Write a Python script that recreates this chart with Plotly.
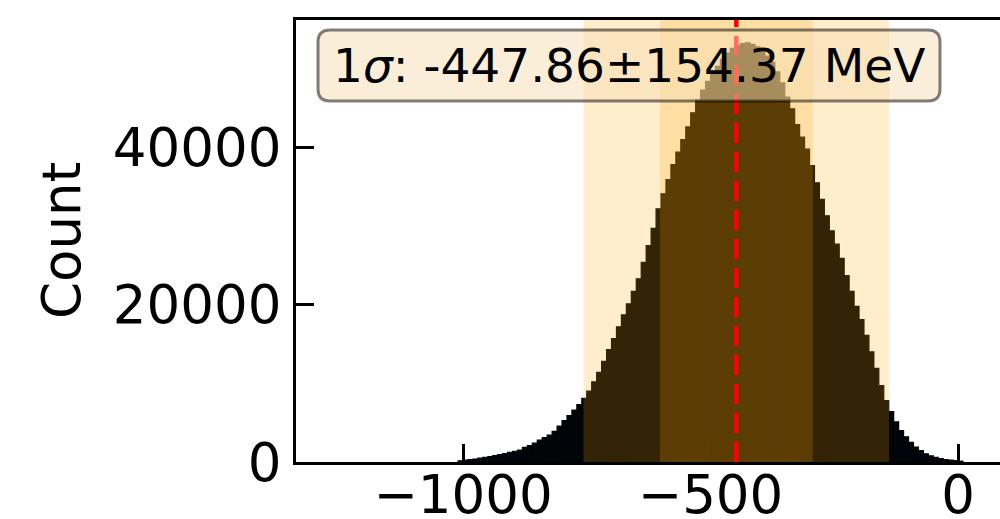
import numpy as np
import plotly.graph_objects as go

# ---- data ----
bin_first_center = -1005.0
bin_width = 10.0
counts = [
    150, 250, 300, 380, 480, 600, 700, 820, 950, 1080,
    1220, 1370, 1500, 1850, 2100, 2400, 2780, 3100, 3420, 3900,
    4550, 5250, 5900, 6600, 7300, 8100, 9000, 10200, 11400, 12800,
    14300, 15700, 17200, 18700, 20100, 21700, 23300, 25400, 27500, 29700,
    32200, 34100, 35900, 37800, 39400, 41000, 42600, 44400, 46000, 47300,
    48400, 49400, 50300, 51200, 52000, 52600, 52900, 53200, 53300, 53100,
    52800, 52300, 51600, 50800, 49600, 48200, 46400, 44900, 42900, 41300,
    39800, 37700, 35500, 33400, 31300, 29400, 27700, 25900, 23700, 21700,
    19800, 18100, 16100, 14000, 11900, 9700, 7800, 6400, 5100, 4000,
    3200, 2500, 1900, 1450, 1050, 780, 580, 430, 320, 240,
    170, 100,
]
mean_mev = -447.86
sigma_mev = 154.37

x_tickvals = [-1000, -500, 0]
x_ticktext = ["\u22121000", "\u2212500", "0"]
y_tickvals = [0, 20000, 40000]
y_ticktext = ["0", "20000", "40000"]
y_label = "Count"
box_text = "1<i>\u03c3</i>: -447.86\u00b1154.37 MeV"

x_range = [-1337.4, 84.8]
y_range = [0, 56200]

centers = bin_first_center + bin_width * np.arange(len(counts))

FONT = "DejaVu Sans"
W, H = 1000, 519
# target plot area in window pixels (page margin removed below)
PL, PT, PB, PR = 296, 20, 462, 1000
ML, MT, MB, MR = PL, PT, H - PB, W - PR
PW, PH = PR - PL, PB - PT


def px_x(px):
    return (px - PL) / PW


def px_y(py):
    return (PB - py) / PH


fig = go.Figure()
fig.add_trace(go.Bar(
    x=centers, y=counts, width=bin_width,
    marker=dict(color="#010409", line=dict(color="#010409", width=1.2)),
    hoverinfo="skip", showlegend=False,
))

shapes = []
# 2 sigma band and 1 sigma band (overlaid, semi-transparent orange)
for k in (2, 1):
    shapes.append(dict(
        type="rect", xref="x", yref="paper",
        x0=mean_mev - k * sigma_mev, x1=mean_mev + k * sigma_mev, y0=0, y1=1,
        fillcolor="rgba(255,165,0,0.2)", line=dict(width=0), layer="above",
    ))
# mean line
shapes.append(dict(
    type="line", xref="x", yref="paper", x0=mean_mev, x1=mean_mev, y0=0, y1=1,
    line=dict(color="red", width=4.5, dash="20px,9px"), layer="above",
))

# rounded text box (in paper coords)
bx0, bx1 = px_x(318), px_x(940)
by0, by1 = px_y(101), px_y(30)
rx, ry = 12 / PW, 12 / PH
path = (f"M {bx0+rx},{by0} L {bx1-rx},{by0} Q {bx1},{by0} {bx1},{by0+ry} "
        f"L {bx1},{by1-ry} Q {bx1},{by1} {bx1-rx},{by1} "
        f"L {bx0+rx},{by1} Q {bx0},{by1} {bx0},{by1-ry} "
        f"L {bx0},{by0+ry} Q {bx0},{by0} {bx0+rx},{by0} Z")
shapes.append(dict(
    type="path", xref="paper", yref="paper", path=path,
    fillcolor="rgba(245,222,179,0.5)", line=dict(color="rgba(0,0,0,0.5)", width=3),
    layer="above",
))

annotations = [
    dict(text=box_text, xref="paper", yref="paper",
         x=px_x(628.5), y=px_y(65.5),
         xanchor="center", yanchor="middle", showarrow=False,
         font=dict(family=FONT, size=47, color="black")),
    dict(text=y_label, xref="paper", yref="paper",
         x=px_x(61), y=px_y(241), textangle=-90,
         xanchor="center", yanchor="middle", showarrow=False,
         font=dict(family=FONT, size=53, color="black")),
]

fig.update_layout(
    width=W, height=H,
    margin=dict(l=ML, r=MR, t=MT, b=MB, pad=0, autoexpand=False),
    paper_bgcolor="white", plot_bgcolor="white",
    bargap=0, shapes=shapes, annotations=annotations,
    showlegend=False, hovermode=False,
    font=dict(family=FONT, color="black"),
)
fig.update_xaxes(
    range=x_range, tickvals=x_tickvals, ticktext=x_ticktext,
    showline=True, linecolor="black", linewidth=3, mirror=True,
    ticks="inside", ticklen=18, tickwidth=3, tickcolor="black",
    showgrid=False, zeroline=False, automargin=False, ticklabelstandoff=-16,
    tickfont=dict(family=FONT, size=53, color="black"),
)
fig.update_yaxes(
    range=y_range, tickvals=y_tickvals, ticktext=y_ticktext,
    showline=True, linecolor="black", linewidth=3, mirror=False,
    ticks="inside", ticklen=18, tickwidth=3, tickcolor="black",
    showgrid=False, zeroline=False, ticklabelstandoff=1, automargin=False,
    tickfont=dict(family=FONT, size=53, color="black"),
)

fig.write_html(
    "out.html",
    config={"displayModeBar": False, "staticPlot": True},
    post_script=("document.body.style.margin='0';"
                 "document.body.style.overflow='hidden';"
                 "document.documentElement.style.overflow='hidden';"),
)
